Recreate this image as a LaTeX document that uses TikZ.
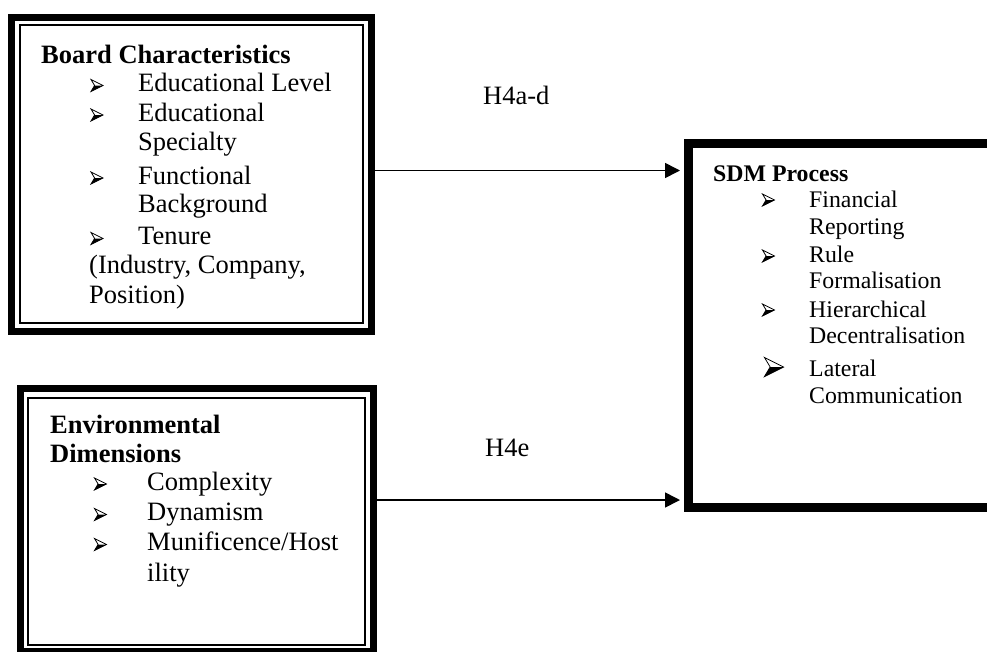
\documentclass[tikz,border=0pt]{standalone}
\usepackage{fontspec}
\setmainfont{Liberation Serif}
\usetikzlibrary{arrows.meta}

\tikzset{
  framebox/.style={draw=black, rectangle, inner sep=0pt, outer sep=0pt},
  bigtxt/.style={anchor=base west, inner sep=0pt, font=\fontsize{26.5}{30}\selectfont},
  smalltxt/.style={anchor=base west, inner sep=0pt, font=\fontsize{23.8}{27}\selectfont},
  link/.style={line width=1.6pt, -{Triangle[length=15pt,width=15pt]}},
  bul/.pic={
    \fill[black] (6,0) -- (-6,6) -- (-2.4,0) -- cycle;
    \draw[black, line width=0.8pt, line join=miter] (-6,-6) -- (6,0) -- (-6,6) -- (-2.4,0) -- cycle;
  }
}

\begin{document}
\begin{tikzpicture}[x=1pt,y=-1pt]
\clip (0,0) rectangle (987,651);
\fill[white] (0,0) rectangle (987,651);

% ---- Board Characteristics frame (thick outer, thin inner) ----
\node[framebox, line width=7pt, minimum width=360pt, minimum height=314pt] (board) at (191.5,174.5) {};
\draw[line width=2pt] (20,25) rectangle (363,323);

% ---- Environmental Dimensions frame ----
\node[framebox, line width=7pt, minimum width=353pt, minimum height=263pt] (env) at (197,520) {};
\draw[line width=2pt] (28,398) rectangle (364.5,645);

% ---- SDM Process frame ----
\node[framebox, line width=9pt, minimum width=311.5pt, minimum height=364pt] (sdm) at (844.25,325.5) {};

% ---- Board Characteristics text ----
\node[bigtxt] (bc0) at (41,63) {\bfseries Board Characteristics};
\node[bigtxt] (bc1) at (138,91.5) {Educational Level};
\node[bigtxt] (bc2) at (138,121) {Educational};
\node[bigtxt] (bc3) at (138,150) {Specialty};
\node[bigtxt] (bc4) at (138,184) {Functional};
\node[bigtxt] (bc5) at (138,212.5) {Background};
\node[bigtxt] (bc6) at (138,244.5) {Tenure};
\node[bigtxt] (bc7) at (89,273.5) {(Industry, Company,};
\node[bigtxt] (bc8) at (89,303) {Position)};
\pic at (97,85.5) {bul};
\pic at (97,115) {bul};
\pic at (97,178) {bul};
\pic at (97,238.5) {bul};

% ---- Environmental Dimensions text ----
\node[bigtxt] (ed0) at (50,433) {\bfseries Environmental};
\node[bigtxt] (ed1) at (50,462) {\bfseries Dimensions};
\node[bigtxt] (ed2) at (147,490) {Complexity};
\node[bigtxt] (ed3) at (147,520.5) {Dynamism};
\node[bigtxt] (ed4) at (147,550.5) {Munificence/Host};
\node[bigtxt] (ed5) at (147,581) {ility};
\pic at (100.5,484) {bul};
\pic at (100.5,514.5) {bul};
\pic at (100.5,544.5) {bul};

% ---- SDM Process text ----
\node[smalltxt] (sp0) at (713,181) {\bfseries SDM Process};
\node[smalltxt] (sp1) at (809,207) {Financial};
\node[smalltxt] (sp2) at (809,234) {Reporting};
\node[smalltxt] (sp3) at (809,262) {Rule};
\node[smalltxt] (sp4) at (809,288.5) {Formalisation};
\node[smalltxt] (sp5) at (809,317) {Hierarchical};
\node[smalltxt] (sp6) at (809,343.5) {Decentralisation};
\node[smalltxt] (sp7) at (809,376.5) {Lateral};
\node[smalltxt] (sp8) at (809,403.5) {Communication};
\pic at (768.5,200) {bul};
\pic at (768.5,256) {bul};
\pic at (768.5,310) {bul};
\pic[scale=1.6] at (774,367) {bul};

% ---- hypothesis links ----
\coordinate (tipA) at (680,170.5);
\coordinate (tipB) at (680,500);
\draw[link] (board.east |- tipA) -- (tipA);
\draw[link] (env.east |- tipB) -- (tipB);
\node[bigtxt] (hA) at (483,104) {H4a-d};
\node[bigtxt] (hB) at (485,456) {H4e};
\end{tikzpicture}
\end{document}
